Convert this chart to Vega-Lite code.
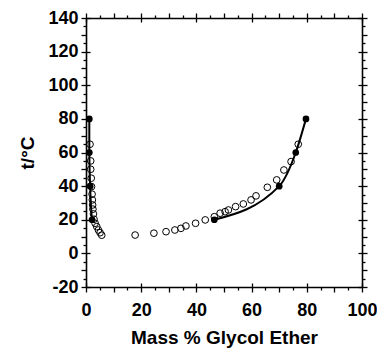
{
  "$schema": "https://vega.github.io/schema/vega-lite/v6.json",
  "autosize": {"type": "none"},
  "padding": {"left": 86, "top": 18, "right": 15, "bottom": 62},
  "width": 276,
  "height": 269,
  "background": "white",
  "config": {
    "view": {"stroke": null},
    "axis": {
      "grid": false,
      "labelFont": "Liberation Sans",
      "labelFontWeight": "bold",
      "labelFontSize": 18,
      "labelColor": "black",
      "titleFont": "Liberation Sans",
      "titleFontWeight": "bold",
      "titleFontSize": 19,
      "titleColor": "black",
      "tickColor": "black",
      "tickWidth": 1.3,
      "domainColor": "black",
      "domainWidth": 1.6
    }
  },
  "datasets": {
    "open": [
      {"x": 1.45, "y": 64.9}, {"x": 1.7, "y": 55}, {"x": 1.7, "y": 50}, {"x": 1.9, "y": 44.7},
      {"x": 2.0, "y": 39.7}, {"x": 2.2, "y": 35.2}, {"x": 2.3, "y": 31.8}, {"x": 2.4, "y": 28.8},
      {"x": 2.5, "y": 26.3}, {"x": 2.7, "y": 23.5}, {"x": 2.9, "y": 20.3}, {"x": 3.3, "y": 17.9},
      {"x": 3.9, "y": 15.9}, {"x": 4.5, "y": 13.9}, {"x": 5.1, "y": 12.3}, {"x": 5.7, "y": 10.8},
      {"x": 17.8, "y": 10.9}, {"x": 24.6, "y": 12}, {"x": 29, "y": 12.9}, {"x": 32.2, "y": 13.9},
      {"x": 34.4, "y": 14.9}, {"x": 36.2, "y": 16.3}, {"x": 39.7, "y": 17.9}, {"x": 43.2, "y": 19.9},
      {"x": 46.5, "y": 21.8}, {"x": 48.6, "y": 23.9}, {"x": 50.4, "y": 24.8}, {"x": 51.6, "y": 25.8},
      {"x": 54.2, "y": 27.8}, {"x": 57, "y": 29.4}, {"x": 59.8, "y": 31.8}, {"x": 61.6, "y": 34.2},
      {"x": 65.7, "y": 39.3}, {"x": 69.1, "y": 43.7}, {"x": 71.7, "y": 49.6}, {"x": 74.3, "y": 54.6},
      {"x": 76.9, "y": 64.9}
    ],
    "left": [
      {"x": 1.2, "y": 80}, {"x": 1.2, "y": 60}, {"x": 1.5, "y": 40}, {"x": 2.2, "y": 20}
    ],
    "right": [
      {"x": 46.5, "y": 20}, {"x": 70, "y": 40}, {"x": 76, "y": 60}, {"x": 79.7, "y": 80}
    ]
  },
  "resolve": {"axis": {"x": "independent", "y": "independent"}},
  "layer": [
    {
      "data": {"name": "open"},
      "mark": {"type": "point", "shape": "circle", "filled": false, "color": "black", "size": 45, "strokeWidth": 1, "opacity": 1},
      "encoding": {
        "x": {
          "field": "x", "type": "quantitative",
          "scale": {"domain": [0, 100], "nice": false, "zero": false},
          "axis": {
            "orient": "bottom",
            "title": "Mass % Glycol Ether",
            "titlePadding": 9,
            "values": [0,5,10,15,20,25,30,35,40,45,50,55,60,65,70,75,80,85,90,95,100],
            "labelExpr": "datum.value % 20 === 0 ? '' + datum.value : ''",
            "labelPadding": 9,
            "labelFlush": false,
            "labelOverlap": false,
            "tickSize": {"condition": {"test": "datum.value % 10 === 0", "value": 5}, "value": 3}
          }
        },
        "y": {
          "field": "y", "type": "quantitative",
          "scale": {"domain": [-20, 140], "nice": false, "zero": false},
          "axis": {
            "orient": "left",
            "title": "t/°C",
            "titlePadding": 10,
            "values": [-20,-15,-10,-5,0,5,10,15,20,25,30,35,40,45,50,55,60,65,70,75,80,85,90,95,100,105,110,115,120,125,130,135,140],
            "labelExpr": "datum.value % 20 === 0 ? '' + datum.value : ''",
            "labelPadding": 3,
            "labelFlush": false,
            "labelOverlap": false,
            "tickSize": {"condition": {"test": "datum.value % 10 === 0", "value": 5}, "value": 3}
          }
        }
      }
    },
    {
      "data": {"name": "left"},
      "mark": {"type": "line", "color": "black", "strokeWidth": 2, "interpolate": "monotone"},
      "encoding": {
        "x": {"field": "x", "type": "quantitative", "scale": {"domain": [0, 100], "nice": false, "zero": false},
          "axis": {"orient": "bottom", "title": null, "labels": false, "domain": false, "values": [0,20,40,60,80,100], "tickSize": -4}},
        "y": {"field": "y", "type": "quantitative", "scale": {"domain": [-20, 140], "nice": false, "zero": false},
          "axis": {"orient": "left", "title": null, "labels": false, "domain": false, "values": [-20,0,20,40,60,80,100,120,140], "tickSize": -4}},
        "order": {"field": "y", "type": "quantitative"}
      }
    },
    {
      "data": {"name": "right"},
      "mark": {"type": "line", "color": "black", "strokeWidth": 2, "interpolate": "monotone"},
      "encoding": {
        "x": {"field": "x", "type": "quantitative", "scale": {"domain": [0, 100], "nice": false, "zero": false},
          "axis": {"orient": "top", "title": null, "labels": false, "domain": false, "values": [0,20,40,60,80,100], "tickSize": -4}},
        "y": {"field": "y", "type": "quantitative", "scale": {"domain": [-20, 140], "nice": false, "zero": false},
          "axis": {"orient": "right", "title": null, "labels": false, "domain": false, "values": [-20,0,20,40,60,80,100,120,140], "tickSize": -4}},
        "order": {"field": "y", "type": "quantitative"}
      }
    },
    {
      "data": {"name": "left"},
      "mark": {"type": "point", "shape": "circle", "filled": true, "color": "black", "size": 45, "opacity": 1},
      "encoding": {
        "x": {"field": "x", "type": "quantitative", "scale": {"domain": [0, 100], "nice": false, "zero": false},
          "axis": {"orient": "top", "title": null, "labels": false,
            "values": [0,5,10,15,20,25,30,35,40,45,50,55,60,65,70,75,80,85,90,95,100],
            "tickSize": {"condition": {"test": "datum.value % 10 === 0", "value": 5}, "value": 3}}},
        "y": {"field": "y", "type": "quantitative", "scale": {"domain": [-20, 140], "nice": false, "zero": false},
          "axis": {"orient": "right", "title": null, "labels": false,
            "values": [-20,-15,-10,-5,0,5,10,15,20,25,30,35,40,45,50,55,60,65,70,75,80,85,90,95,100,105,110,115,120,125,130,135,140],
            "tickSize": {"condition": {"test": "datum.value % 10 === 0", "value": 5}, "value": 3}}}
      }
    },
    {
      "data": {"name": "right"},
      "mark": {"type": "point", "shape": "circle", "filled": true, "color": "black", "size": 45, "opacity": 1},
      "encoding": {
        "x": {"field": "x", "type": "quantitative", "scale": {"domain": [0, 100], "nice": false, "zero": false}, "axis": null},
        "y": {"field": "y", "type": "quantitative", "scale": {"domain": [-20, 140], "nice": false, "zero": false}, "axis": null}
      }
    }
  ]
}
